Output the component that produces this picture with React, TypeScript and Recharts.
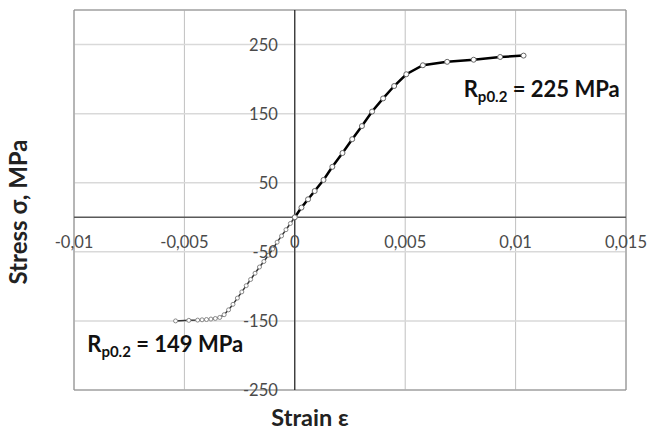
import React from 'react';
import {
  LineChart, Line, XAxis, YAxis, CartesianGrid, ReferenceLine, ReferenceArea, ReferenceDot,
} from 'recharts';

// tension branch (strain, stress MPa)
const tension = [
  { x: 0, y: 0 }, { x: 0.0003, y: 14 }, { x: 0.0006, y: 26 }, { x: 0.0009, y: 38 },
  { x: 0.0013, y: 54 }, { x: 0.0017, y: 73 }, { x: 0.00216, y: 93 }, { x: 0.0026, y: 113 },
  { x: 0.00304, y: 132 }, { x: 0.0035, y: 153 }, { x: 0.004, y: 172 }, { x: 0.0045, y: 190 },
  { x: 0.00505, y: 207 }, { x: 0.0058, y: 220 }, { x: 0.0069, y: 225 }, { x: 0.0081, y: 228 },
  { x: 0.0093, y: 232 }, { x: 0.01036, y: 234 },
];

// compression branch
const compression = [
  { x: 0, y: 0 }, { x: -0.0002, y: -9 }, { x: -0.0004, y: -18 }, { x: -0.0006, y: -27 },
  { x: -0.0008, y: -36 }, { x: -0.001, y: -46 }, { x: -0.0012, y: -55 }, { x: -0.0014, y: -64 },
  { x: -0.0016, y: -72 }, { x: -0.0018, y: -81 }, { x: -0.002, y: -90 }, { x: -0.0022, y: -99 },
  { x: -0.0024, y: -108 }, { x: -0.0026, y: -117 }, { x: -0.0028, y: -126 }, { x: -0.003, y: -134 },
  { x: -0.0032, y: -141 }, { x: -0.0034, y: -145 }, { x: -0.0036, y: -146.5 }, { x: -0.0038, y: -147.3 },
  { x: -0.004, y: -148 }, { x: -0.0042, y: -148.4 }, { x: -0.0044, y: -148.8 }, { x: -0.0048, y: -149.2 },
  { x: -0.0054, y: -150 },
];

const xTicks = [-0.01, -0.005, 0, 0.005, 0.01, 0.015];
const yTicks = [-250, -150, -50, 50, 150, 250];
const xDomain = [-0.01, 0.015];
const yDomain = [-250, 300];

const W = 649, H = 430;
const LEFT = 74, RIGHT = 23, TOP = 10, BOTTOM = 40;
const PW = W - LEFT - RIGHT, PH = H - TOP - BOTTOM;
const ZERO_X = LEFT + ((0 - xDomain[0]) / (xDomain[1] - xDomain[0])) * PW;
const ZERO_Y = TOP + ((yDomain[1] - 0) / (yDomain[1] - yDomain[0])) * PH;

const FONT = 'Lato, "Open Sans", sans-serif';
const fmt = (v: number) => String(v).replace('.', ',');

const XTick = (props: any) => (
  <text x={props.x} y={ZERO_Y + 31} textAnchor="middle" fontSize={16.5} fill="#4a4a4a" fontFamily={FONT}>
    {fmt(props.payload.value)}
  </text>
);

const YTick = (props: any) => (
  <text x={ZERO_X - 17} y={props.y + 6} textAnchor="end" fontSize={16.5} fill="#4a4a4a" fontFamily={FONT}>
    {fmt(props.payload.value)}
  </text>
);

const rpLabel = (value: string) => (props: any) => {
  const { x, y } = props.viewBox;
  return (
    <text x={x} y={y} fontSize={22} fontWeight="bold" fill="#111" fontFamily={FONT}>
      <tspan>R</tspan>
      <tspan dy={5} fontSize={15}>p0.2</tspan>
      <tspan dy={-5}>{` = ${value} MPa`}</tspan>
    </text>
  );
};

const YTitle = () => (
  <text x={27} y={212} transform="rotate(-90 27 212)" textAnchor="middle" fontSize={24} fontWeight="bold" fill="#222" fontFamily={FONT}>
    Stress σ, MPa
  </text>
);

const XTitle = () => (
  <text x={310} y={426} textAnchor="middle" fontSize={23.5} fontWeight="bold" fill="#222" fontFamily={FONT}>
    Strain ε
  </text>
);

export default function App() {
  return (
    <div style={{ position: 'absolute', left: 0, top: 0, background: '#fff' }}>
      <LineChart width={W} height={H} margin={{ top: TOP, right: RIGHT, bottom: 0, left: 0 }}>
        <CartesianGrid horizontal={false} stroke="#c0c0c0" />
        <CartesianGrid vertical={false} stroke="#d9d9d9" strokeWidth={1.5} />
        <XAxis type="number" dataKey="x" domain={xDomain} ticks={xTicks} height={BOTTOM}
          axisLine={false} tickLine={false} tick={<XTick />} interval={0}
          label={{ content: () => <XTitle /> }} />
        <YAxis type="number" dataKey="y" domain={yDomain} ticks={yTicks} width={LEFT}
          axisLine={false} tickLine={false} tick={<YTick />} interval={0}
          label={{ content: () => <YTitle /> }} />
        <ReferenceArea x1={xDomain[0]} x2={xDomain[1]} y1={yDomain[0]} y2={yDomain[1]} fill="none" stroke="#8c8c8c" />
        <ReferenceLine y={0} stroke="#595959" strokeWidth={1.5} />
        <ReferenceLine x={0} stroke="#000" strokeWidth={1} />
        <Line data={compression} dataKey="y" stroke="#333" strokeWidth={1.5} isAnimationActive={false}
          dot={{ r: 2, fill: '#fff', stroke: '#888', strokeWidth: 1 }} />
        <Line data={tension} dataKey="y" stroke="#000" strokeWidth={2.5} isAnimationActive={false}
          dot={{ r: 2.5, fill: '#fff', stroke: '#666', strokeWidth: 1 }} />
        <ReferenceDot x={0.00765} y={174} r={0} fill="none" stroke="none" label={{ content: rpLabel('225') }} />
        <ReferenceDot x={-0.0094} y={-195} r={0} fill="none" stroke="none" label={{ content: rpLabel('149') }} />
      </LineChart>
    </div>
  );
}
